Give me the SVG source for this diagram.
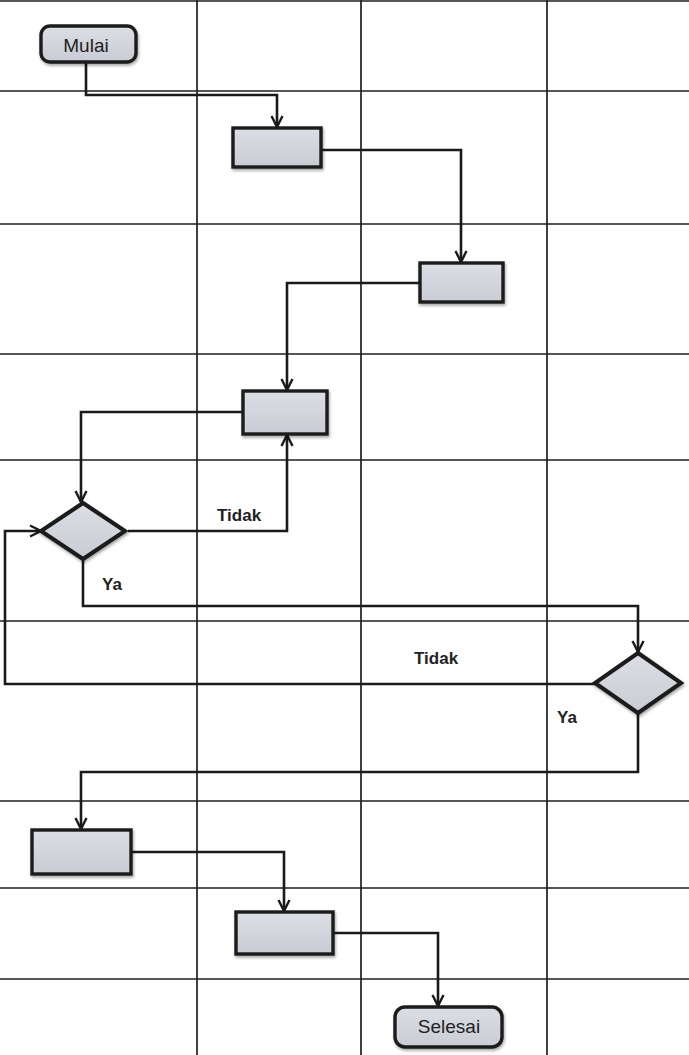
<svg xmlns="http://www.w3.org/2000/svg" width="689" height="1055" viewBox="0 0 689 1055">
<style>
.grid{stroke:#1e1e1e;stroke-width:1.7;fill:none}
.node{fill:url(#g);stroke:#1a1a1a;stroke-width:3.4;filter:url(#sh)}
.dia{stroke-width:4}
.conn{stroke:#1a1a1a;stroke-width:2.6;fill:none;stroke-linejoin:miter}
.lbl{font-family:"Liberation Sans",Arial,sans-serif;font-weight:bold;font-size:17px;fill:#222}
.ttl{font-family:"Liberation Sans",Arial,sans-serif;font-size:19px;fill:#222;text-anchor:middle}
</style>
<defs>
<linearGradient id="g" x1="0" y1="0" x2="0" y2="1">
<stop offset="0" stop-color="#dcdee4"/>
<stop offset="1" stop-color="#c9ccd4"/>
</linearGradient>
<filter id="sh" x="-20%" y="-20%" width="140%" height="150%">
<feDropShadow dx="1" dy="2" stdDeviation="1.5" flood-color="#000" flood-opacity="0.35"/>
</filter>
<marker id="arr" markerWidth="16" markerHeight="16" refX="12" refY="7" orient="auto" markerUnits="userSpaceOnUse">
<path d="M1,1.5 L12,7 L1,12.5" fill="none" stroke="#1a1a1a" stroke-width="2.4"/>
</marker>
</defs>
<rect x="0" y="0" width="689" height="1055" fill="#fff"/>
<g id="grid">
<line class="grid" x1="0" y1="1" x2="689" y2="1"/>
<line class="grid" x1="0" y1="91" x2="689" y2="91"/>
<line class="grid" x1="0" y1="224" x2="689" y2="224"/>
<line class="grid" x1="0" y1="354" x2="689" y2="354"/>
<line class="grid" x1="0" y1="460" x2="689" y2="460"/>
<line class="grid" x1="0" y1="621" x2="689" y2="621"/>
<line class="grid" x1="0" y1="801" x2="689" y2="801"/>
<line class="grid" x1="0" y1="888" x2="689" y2="888"/>
<line class="grid" x1="0" y1="979" x2="689" y2="979"/>
<line class="grid" x1="197" y1="0" x2="197" y2="1055"/>
<line class="grid" x1="361" y1="0" x2="361" y2="1055"/>
<line class="grid" x1="547" y1="0" x2="547" y2="1055"/>
</g>
<g id="connectors">
<path class="conn" d="M86,62 V95 H277 V127" marker-end="url(#arr)"/>
<path class="conn" d="M321,150 H461 V262" marker-end="url(#arr)"/>
<path class="conn" d="M420,283 H287 V390" marker-end="url(#arr)"/>
<path class="conn" d="M243,412 H81 V502" marker-end="url(#arr)"/>
<path class="conn" d="M128,531 H287 V435" marker-end="url(#arr)"/>
<path class="conn" d="M83,559 V606 H638 V652" marker-end="url(#arr)"/>
<path class="conn" d="M595,684 H5 V531 H41" marker-end="url(#arr)"/>
<path class="conn" d="M638,713 V772 H81 V829" marker-end="url(#arr)"/>
<path class="conn" d="M131,852 H284 V911" marker-end="url(#arr)"/>
<path class="conn" d="M333,933 H438 V1006" marker-end="url(#arr)"/>
<text class="lbl" x="217" y="521">Tidak</text>
<text class="lbl" x="102" y="590">Ya</text>
<text class="lbl" x="414" y="664">Tidak</text>
<text class="lbl" x="557" y="723">Ya</text>
</g>
<g id="mulai">
<rect class="node" x="41" y="26" width="95" height="36" rx="9"/>
<text class="ttl" x="86" y="52">Mulai</text>
</g>
<g id="proses1"><rect class="node" x="233" y="128" width="88" height="39"/></g>
<g id="proses2"><rect class="node" x="420" y="263" width="83" height="39"/></g>
<g id="proses3"><rect class="node" x="243" y="391" width="84" height="43"/></g>
<g id="keputusan1"><polygon class="node dia" points="83,503 125,531 83,559 41,531"/></g>
<g id="keputusan2"><polygon class="node dia" points="638,653 681,683 638,713 595,683"/></g>
<g id="proses4"><rect class="node" x="32" y="830" width="99" height="44"/></g>
<g id="proses5"><rect class="node" x="236" y="912" width="97" height="42"/></g>
<g id="selesai">
<rect class="node" x="395" y="1007" width="107" height="40" rx="10"/>
<text class="ttl" x="449" y="1033">Selesai</text>
</g>
</svg>
